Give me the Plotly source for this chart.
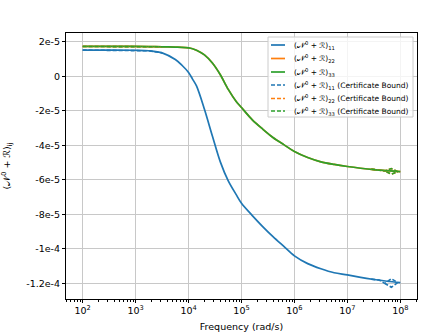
import plotly.graph_objects as go

# -------------------------------------------------------------------
# DATA
# -------------------------------------------------------------------
# frequency, as log10 exponents (rad/s)
freq_exp = [2.0, 2.5, 3.0, 3.25, 3.5, 3.75, 3.875, 4.0, 4.075, 4.15, 4.3, 4.45,
            4.6, 4.75, 4.9, 5.0, 5.2, 5.4, 5.6, 5.8, 6.0, 6.25, 6.5, 6.75, 7.0,
            7.25, 7.5, 7.75, 8.0]

# diagonal entries, in units of 1e-5
n11 = [1.53, 1.53, 1.52, 1.49, 1.37, 0.98, 0.65, 0.23, -0.15, -0.55, -1.90,
       -3.45, -4.95, -6.05, -6.85, -7.35, -8.05, -8.70, -9.30, -9.85, -10.40,
       -10.85, -11.15, -11.38, -11.50, -11.65, -11.77, -11.87, -11.95]
n33 = [1.74, 1.74, 1.74, 1.73, 1.72, 1.70, 1.69, 1.66, 1.61, 1.52, 1.25,
       0.78, 0.10, -0.75, -1.45, -1.80, -2.50, -3.05, -3.55, -3.95, -4.35,
       -4.70, -4.95, -5.10, -5.22, -5.32, -5.40, -5.46, -5.52]
n22 = list(n33)  # hidden under the 33 curve

# certificate bounds (small loops near the high-frequency end)
bound_exp = [7.45, 7.60, 7.71, 7.83, 7.95, 7.83, 7.71]
bound11 = [-11.75, -11.80, -12.00, -11.72, -11.95, -12.22, -12.00]
bound22 = [-5.37, -5.41, -5.48, -5.34, -5.52, -5.66, -5.48]
bound33 = [-5.37, -5.41, -5.48, -5.34, -5.52, -5.66, -5.48]

# low-frequency end of the bounds
low_exp = [2.0, 2.5, 3.0, 3.25, 3.5]
low11 = [1.53, 1.53, 1.52, 1.49, 1.37]
low22 = [1.74, 1.74, 1.74, 1.73, 1.72]
low33 = [1.74, 1.74, 1.74, 1.73, 1.72]

y_tick_vals = [2e-5, 0, -2e-5, -4e-5, -6e-5, -8e-5, -1e-4, -1.2e-4]
y_tick_text = ["2e-5", "0", "-2e-5", "-4e-5", "-6e-5", "-8e-5", "-1e-4", "-1.2e-4"]
x_tick_exp = [2, 3, 4, 5, 6, 7, 8]

BLUE, ORANGE, GREEN = "#1f77b4", "#ff7f0e", "#2ca02c"
NAME = "(𝒩<sup>0</sup> + ℛ)<sub>{}</sub>"
FONT = "DejaVu Sans"


def fx(exps):
    return [10 ** e for e in exps]


def fy(vals):
    return [v * 1e-5 for v in vals]


fig = go.Figure()

for vals, col in [(n11, BLUE), (n22, ORANGE), (n33, GREEN)]:
    fig.add_trace(go.Scatter(x=fx(freq_exp), y=fy(vals), mode="lines",
                             line=dict(color=col, width=1.7, shape="spline",
                                       smoothing=0.9),
                             showlegend=False, hoverinfo="skip"))

for lx, ly, bx, by, col in [(low_exp, low11, bound_exp, bound11, BLUE),
                            (low_exp, low22, bound_exp, bound22, ORANGE),
                            (low_exp, low33, bound_exp, bound33, GREEN)]:
    for xs, ys in [(lx, ly), (bx, by)]:
        fig.add_trace(go.Scatter(x=fx(xs), y=fy(ys), mode="lines",
                                 line=dict(color=col, width=1.6, dash="4px,2px"),
                                 showlegend=False, hoverinfo="skip"))

# -------------------------------------------------------------------
# LEGEND (drawn by hand to get matplotlib-like compact rows)
# -------------------------------------------------------------------
x0, w, ytop, h = 66, 351, 33, 266


def px(v):
    return (v - x0) / w


def py(v):
    return (ytop + h - v) / h


fig.add_shape(type="rect", xref="paper", yref="paper",
              x0=px(268), x1=px(413), y0=py(117), y1=py(37),
              line=dict(color="#cccccc", width=1),
              fillcolor="rgba(255,255,255,0.8)", layer="above")

labels = [NAME.format(11), NAME.format(22), NAME.format(33),
          NAME.format(11) + " (Certificate Bound)",
          NAME.format(22) + " (Certificate Bound)",
          NAME.format(33) + " (Certificate Bound)"]
colors = [BLUE, ORANGE, GREEN, BLUE, ORANGE, GREEN]
rows = [45, 58.5, 72, 85, 98.5, 111]
for i, (lab, col, ry) in enumerate(zip(labels, colors, rows)):
    fig.add_shape(type="line", xref="paper", yref="paper",
                  x0=px(271), x1=px(285), y0=py(ry), y1=py(ry),
                  line=dict(color=col, width=1.7, dash="solid" if i < 3 else "4px,2px"),
                  layer="above")
    fig.add_annotation(xref="paper", yref="paper", x=px(292), y=py(ry),
                       text=lab, showarrow=False, xanchor="left", yanchor="middle",
                       font=dict(family=FONT, size=7.5, color="black"))

# -------------------------------------------------------------------
# LAYOUT
# -------------------------------------------------------------------
axis_common = dict(showline=True, linecolor="black", linewidth=1, mirror=True,
                   ticks="outside", ticklen=3, tickwidth=1, tickcolor="black",
                   showgrid=True, gridcolor="#c8c8c8", gridwidth=1,
                   zeroline=False, automargin=False,
                   tickfont=dict(family=FONT, size=9.5, color="black"))

minor_vals = [k * 10 ** d for d in range(1, 9) for k in range(2, 10)]

fig.update_layout(
    width=443, height=332,
    margin=dict(l=66, r=26, t=33, b=33),
    plot_bgcolor="white", paper_bgcolor="white",
    font=dict(family=FONT, color="black"),
    xaxis=dict(type="log", range=[1.685, 8.315],
               tickvals=fx(x_tick_exp),
               ticktext=["10<sup>{}</sup>".format(e) for e in x_tick_exp],
               minor=dict(tickvals=minor_vals, ticks="outside", ticklen=1.5,
                          tickcolor="black", showgrid=False),
               title=dict(text="Frequency (rad/s)",
                          font=dict(family=FONT, size=9.5)),
               **axis_common),
    yaxis=dict(range=[-1.29e-4, 2.52e-5], tickvals=y_tick_vals, ticktext=y_tick_text,
               title=dict(text="(𝒩<sup>0</sup> + ℛ)<sub>ij</sub>",
                          font=dict(family=FONT, size=9.5)),
               **axis_common),
)

# the page body has a default 8px margin; drop it so the figure sits at 0,0
fig.write_html("out.html", config={"displayModeBar": False},
               post_script="document.body.style.margin='0';")
